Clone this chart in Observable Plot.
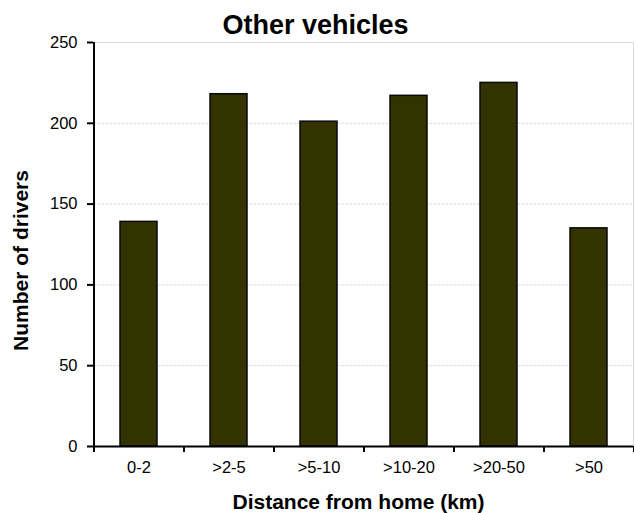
<!DOCTYPE html>
<html>
<head>
<meta charset="utf-8">
<script src="https://cdn.jsdelivr.net/npm/d3@7"></script>
<script src="https://cdn.jsdelivr.net/npm/@observablehq/plot@0.6"></script>
<style>
  html, body { margin: 0; padding: 0; background: #fff; }
</style>
</head>
<body>
<div id="chart"></div>
<script>
// Drivers of other vehicles, by distance from home
const categories = ["0-2", ">2-5", ">5-10", ">10-20", ">20-50", ">50"];
const drivers = [139, 218, 201, 217, 225, 135];
const yTicks = [0, 50, 100, 150, 200, 250];
const chartTitle = "Other vehicles";
const xTitle = "Distance from home (km)";
const yTitle = "Number of drivers";

const rows = categories.map((c, i) => ({category: c, drivers: drivers[i]}));
const halfStep = 45; // half of one category slot, for slot boundary ticks
const font = "'Liberation Sans', Arial, sans-serif";

const chart = Plot.plot({
  width: 634,
  height: 513,
  marginLeft: 93,
  marginRight: 1,
  marginTop: 42,
  marginBottom: 67,
  style: {fontFamily: font, fontSize: "16px", color: "#000", background: "#fff", overflow: "visible"},
  x: {domain: categories, paddingInner: 0.59, paddingOuter: 0.295, axis: null},
  y: {domain: [0, 250], axis: null},
  marks: [
    Plot.frame({stroke: "#d9d9d9"}),
    Plot.gridY(yTicks, {stroke: "#dcdcdc", strokeOpacity: 1, strokeDasharray: "3,1"}),
    Plot.barY(rows, {x: "category", y: "drivers", fill: "#333300", stroke: "#0a0a0a", strokeWidth: 1.5}),
    // category axis: labels centred in slots, ticks on slot boundaries
    Plot.text(categories, {x: d => d, frameAnchor: "bottom", dy: 21, lineAnchor: "middle", fontSize: 16.5}),
    Plot.ruleX(categories, {dx: -halfStep, insetTop: 404, insetBottom: -6, stroke: "#000", strokeWidth: 2}),
    Plot.ruleX(categories.slice(-1), {dx: halfStep, insetTop: 404, insetBottom: -6, stroke: "#000", strokeWidth: 2}),
    // value axis
    Plot.axisY(yTicks, {tickSize: 6, tickFormat: () => "", label: null, strokeWidth: 2}),
    Plot.text(yTicks, {y: d => d, frameAnchor: "left", textAnchor: "end", dx: -16, lineAnchor: "middle", fontSize: 16.5}),
    Plot.ruleX(categories.slice(0, 1), {dx: -halfStep, stroke: "#000", strokeWidth: 2}),
    Plot.ruleY([0], {stroke: "#000", strokeWidth: 2}),
    // titles
    Plot.text([chartTitle], {frameAnchor: "top", textAnchor: "middle", dx: -48, dy: -17, lineAnchor: "middle", fontSize: 27, fontWeight: "bold"}),
    Plot.text([xTitle], {frameAnchor: "bottom", textAnchor: "middle", dx: -5, dy: 56, lineAnchor: "middle", fontSize: 21, fontWeight: "bold"}),
    Plot.text([yTitle], {frameAnchor: "left", textAnchor: "middle", dx: -72, dy: 16, rotate: -90, lineAnchor: "middle", fontSize: 21, fontWeight: "bold"})
  ]
});
document.getElementById("chart").appendChild(chart);
</script>
</body>
</html>
